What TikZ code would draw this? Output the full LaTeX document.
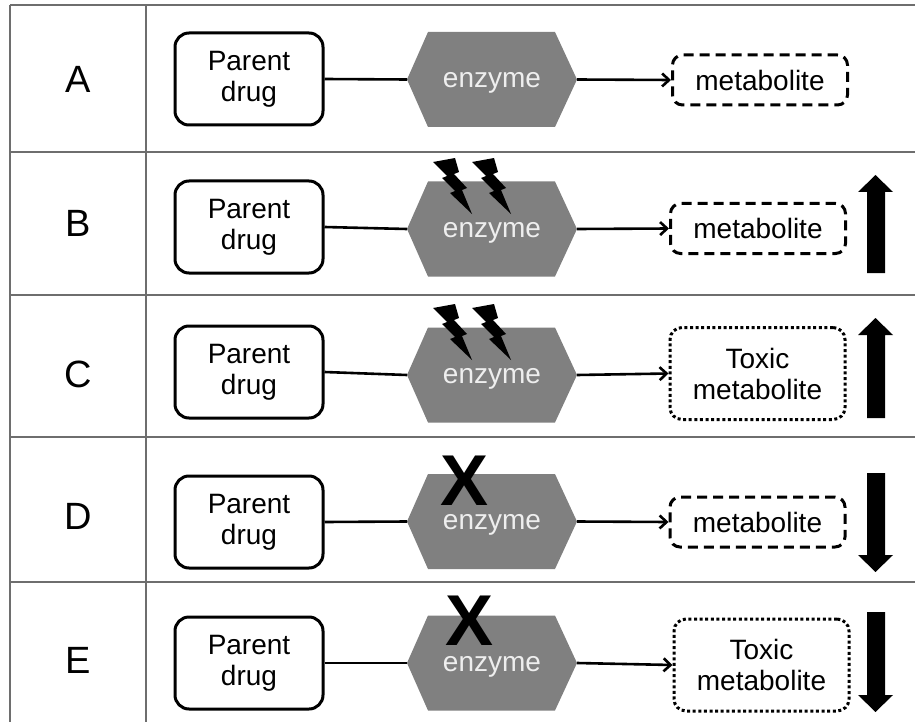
\documentclass[tikz,border=0pt]{standalone}
\usepackage{fontspec}
\setmainfont{Liberation Sans}
\usetikzlibrary{arrows.meta}
\definecolor{gridc}{HTML}{6E6E6E}
\definecolor{enzfill}{HTML}{808080}
\definecolor{enztxt}{HTML}{EEEEEE}
\tikzset{
  gridline/.style={draw=gridc,line width=1.5pt},
  parentbox/.style={draw,rounded corners=14pt,line width=3pt,minimum width=148pt,minimum height=92pt,align=center,inner sep=0pt,font=\fontsize{28}{31}\selectfont},
  metabox/.style={draw,rounded corners=10pt,line width=3pt,minimum width=175pt,minimum height=50pt,align=center,inner sep=0pt,font=\fontsize{28}{31}\selectfont,dash pattern=on 10pt off 6pt},
  toxbox/.style={draw,rounded corners=12pt,line width=3pt,minimum width=175pt,minimum height=92pt,align=center,inner sep=0pt,font=\fontsize{28}{31}\selectfont,dash pattern=on 3pt off 2.6pt},
  enztext/.style={text=enztxt,inner sep=0pt,anchor=base,font=\fontsize{28}{32}\selectfont},
  rowlabel/.style={inner sep=0pt,font=\fontsize{38}{40}\selectfont},
  conn/.style={line width=2.6pt},
  connarrow/.style={line width=2.6pt,-{Straight Barb[length=7pt,width=13pt]}},
  xmark/.style={inner sep=0pt,font=\bfseries\fontsize{72}{72}\selectfont},
  bigarrow/.style={fill=black}
}
\newcommand{\hexrow}[2]{%
  \fill[enzfill] (407,#2) -- (428,#2-47.5) -- (555,#2-47.5) -- (577,#2) -- (555,#2+47.5) -- (428,#2+47.5) -- cycle;
  \coordinate (#1l) at (407,#2);
  \coordinate (#1r) at (577,#2);
  \node[enztext] (#1) at (492,#2+8) {enzyme};}
\newcommand{\boltat}[2]{%
  \fill[black,shift={(#1,#2)}] (0,4) -- (22,0) -- (26,14) -- (21,16) -- (34,30) -- (29,32) -- (39,56) -- (17,35) -- (22,33) -- (9,20) -- (14,18) -- cycle;}
\newcommand{\uparr}[3]{% top, base, bottom
  \fill[bigarrow] (875.5,#1) -- (893,#2) -- (885,#2) -- (885,#3) -- (867,#3) -- (867,#2) -- (858,#2) -- cycle;}
\newcommand{\downarr}[3]{% top, base, tip
  \fill[bigarrow] (867,#1) -- (885,#1) -- (885,#2) -- (893,#2) -- (875.5,#3) -- (858,#2) -- (867,#2) -- cycle;}
\begin{document}
\begin{tikzpicture}[x=1pt,y=-1pt]
\useasboundingbox (0,0) rectangle (915,722);
% grid
\draw[gridline] (10,5) -- (10,722);
\draw[gridline] (146,5) -- (146,722);
\foreach \yy in {5,152,295,437,582} { \draw[gridline] (10,\yy) -- (915,\yy); }
% labels
\node[rowlabel] (lA) at (78,79) {A};
\node[rowlabel] (lB) at (78,223) {B};
\node[rowlabel] (lC) at (78,374) {C};
\node[rowlabel] (lD) at (78,516) {D};
\node[rowlabel] (lE) at (78,660) {E};
% row A
\node[parentbox] (pA) at (249,79) {Parent\\drug};
\hexrow{ezA}{79.5}
\node[metabox] (mA) at (760,80) {metabolite};
% row B
\node[parentbox] (pB) at (249,227) {Parent\\drug};
\hexrow{ezB}{229}
\node[metabox] (mB) at (758,228.5) {metabolite};
\boltat{433}{158}
\boltat{472}{158}
\uparr{175}{192}{273}
% row C
\node[parentbox] (pC) at (249,372) {Parent\\drug};
\hexrow{ezC}{375}
\node[toxbox] (mC) at (757.5,373.5) {Toxic\\metabolite};
\boltat{433}{304}
\boltat{472}{304}
\uparr{318}{335}{418}
% row D
\node[parentbox] (pD) at (249,522) {Parent\\drug};
\hexrow{ezD}{521.5}
\node[metabox] (mD) at (757.5,522) {metabolite};
\node[xmark] (xD) at (465,481) {X};
\downarr{473}{555}{572}
% row E
\node[parentbox] (pE) at (249,663) {Parent\\drug};
\hexrow{ezE}{663}
\node[toxbox] (mE) at (761.5,665) {Toxic\\metabolite};
\node[xmark] (xE) at (470,621) {X};
\downarr{612}{695}{712}
% connectors
\foreach \r in {A,B,C,D,E} {
  \draw[conn] (p\r.east) -- (ez\r l);
  \draw[connarrow] (ez\r r) -- (m\r.west);
}
\end{tikzpicture}
\end{document}
